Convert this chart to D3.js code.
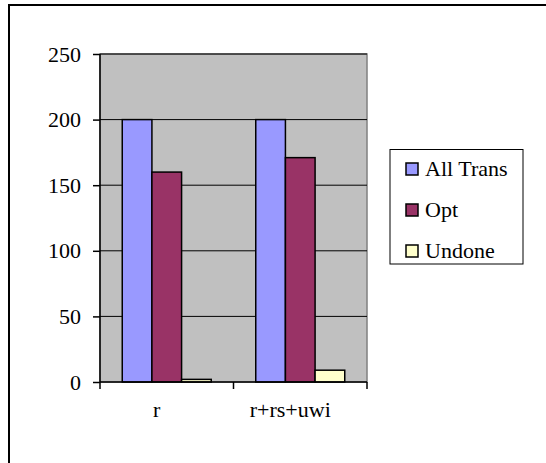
<!DOCTYPE html>
<html>
<head>
<meta charset="utf-8">
<script src="https://cdn.jsdelivr.net/npm/d3@7"></script>
<style>
  body { margin: 0; background: #fff; }
  svg text { font-family: "Liberation Serif", "DejaVu Serif", serif !important; font-size: 22px !important; fill: #000; }
</style>
</head>
<body>
<svg id="chart" width="546" height="463"></svg>
<script>
const categories = ["r", "r+rs+uwi"];
const seriesNames = ["All Trans", "Opt", "Undone"];
const allTrans = [200, 200];
const opt = [160, 171];
const undone = [2, 9];
const yTicks = [0, 50, 100, 150, 200, 250];
const colors = ["#9999ff", "#993366", "#ffffcc"];

const svg = d3.select("#chart");
const plotL = 100, plotR = 367, plotT = 54, plotB = 382;

// outer frame (only top and left are in view)
svg.append("path").attr("d", "M9,463 V5 H546")
  .attr("fill", "none").attr("stroke", "#000").attr("stroke-width", 2);

const x0 = d3.scaleBand().domain(categories).range([plotL, plotR]).paddingInner(0).paddingOuter(0);
const x1 = d3.scaleBand().domain(seriesNames).range([0, x0.bandwidth()]).paddingOuter(0.75).paddingInner(0);
const y = d3.scaleLinear().domain([0, 250]).range([plotB, plotT]);

svg.append("rect").attr("x", plotL).attr("y", plotT).attr("width", plotR - plotL).attr("height", plotB - plotT)
  .attr("fill", "#c0c0c0").attr("stroke", "#808080").attr("stroke-width", 1.5);

// gridlines
svg.append("g").selectAll("line").data(yTicks.slice(1))
  .join("line")
  .attr("x1", plotL).attr("x2", plotR)
  .attr("y1", d => y(d)).attr("y2", d => y(d))
  .attr("stroke", "#000").attr("stroke-width", 1);

const values = [allTrans, opt, undone];
const rows = categories.map((c, i) => ({ c, v: seriesNames.map((s, j) => ({ s, j, val: values[j][i] })) }));

svg.append("g").selectAll("g").data(rows).join("g")
  .attr("transform", d => `translate(${x0(d.c)},0)`)
  .selectAll("rect").data(d => d.v).join("rect")
  .attr("x", d => x1(d.s))
  .attr("width", x1.bandwidth())
  .attr("y", d => y(d.val))
  .attr("height", d => y(0) - y(d.val))
  .attr("fill", d => colors[d.j])
  .attr("stroke", "#000").attr("stroke-width", 1.5);

// y axis
const yAxis = d3.axisLeft(y).tickValues(yTicks).tickSize(7).tickPadding(12);
const gy = svg.append("g").attr("transform", `translate(${plotL},0)`).call(yAxis);
gy.select(".domain").attr("stroke", "#000").attr("stroke-width", 1.5).attr("d", `M0,${plotT}V${plotB}`);
gy.selectAll(".tick line").attr("stroke", "#000").attr("stroke-width", 1.5);

// x axis
const gx = svg.append("g").attr("transform", `translate(0,${plotB})`);
gx.append("line").attr("x1", plotL).attr("x2", plotR).attr("stroke", "#000").attr("stroke-width", 1.5);
gx.selectAll(".tk").data(d3.range(categories.length + 1))
  .join("line").attr("class", "tk")
  .attr("x1", i => plotL + i * x0.step()).attr("x2", i => plotL + i * x0.step())
  .attr("y1", 0).attr("y2", 7).attr("stroke", "#000").attr("stroke-width", 1.5);
gx.selectAll("text").data(categories).join("text")
  .attr("x", d => x0(d) + x0.bandwidth() / 2 - 10)
  .attr("y", 35)
  .attr("text-anchor", "middle")
  .text(d => d);

// legend
const lg = svg.append("g");
lg.append("rect").attr("x", 390).attr("y", 149.5).attr("width", 133).attr("height", 114.5)
  .attr("fill", "#fff").attr("stroke", "#000").attr("stroke-width", 1);
const items = lg.selectAll("g").data(seriesNames).join("g")
  .attr("transform", (d, i) => `translate(406,${169 + i * 41})`);
items.append("rect").attr("x", 0).attr("y", -6).attr("width", 12).attr("height", 12)
  .attr("fill", (d, i) => colors[i]).attr("stroke", "#000").attr("stroke-width", 1.5);
items.append("text").attr("x", 19).attr("y", 7).text(d => d);
</script>
</body>
</html>
